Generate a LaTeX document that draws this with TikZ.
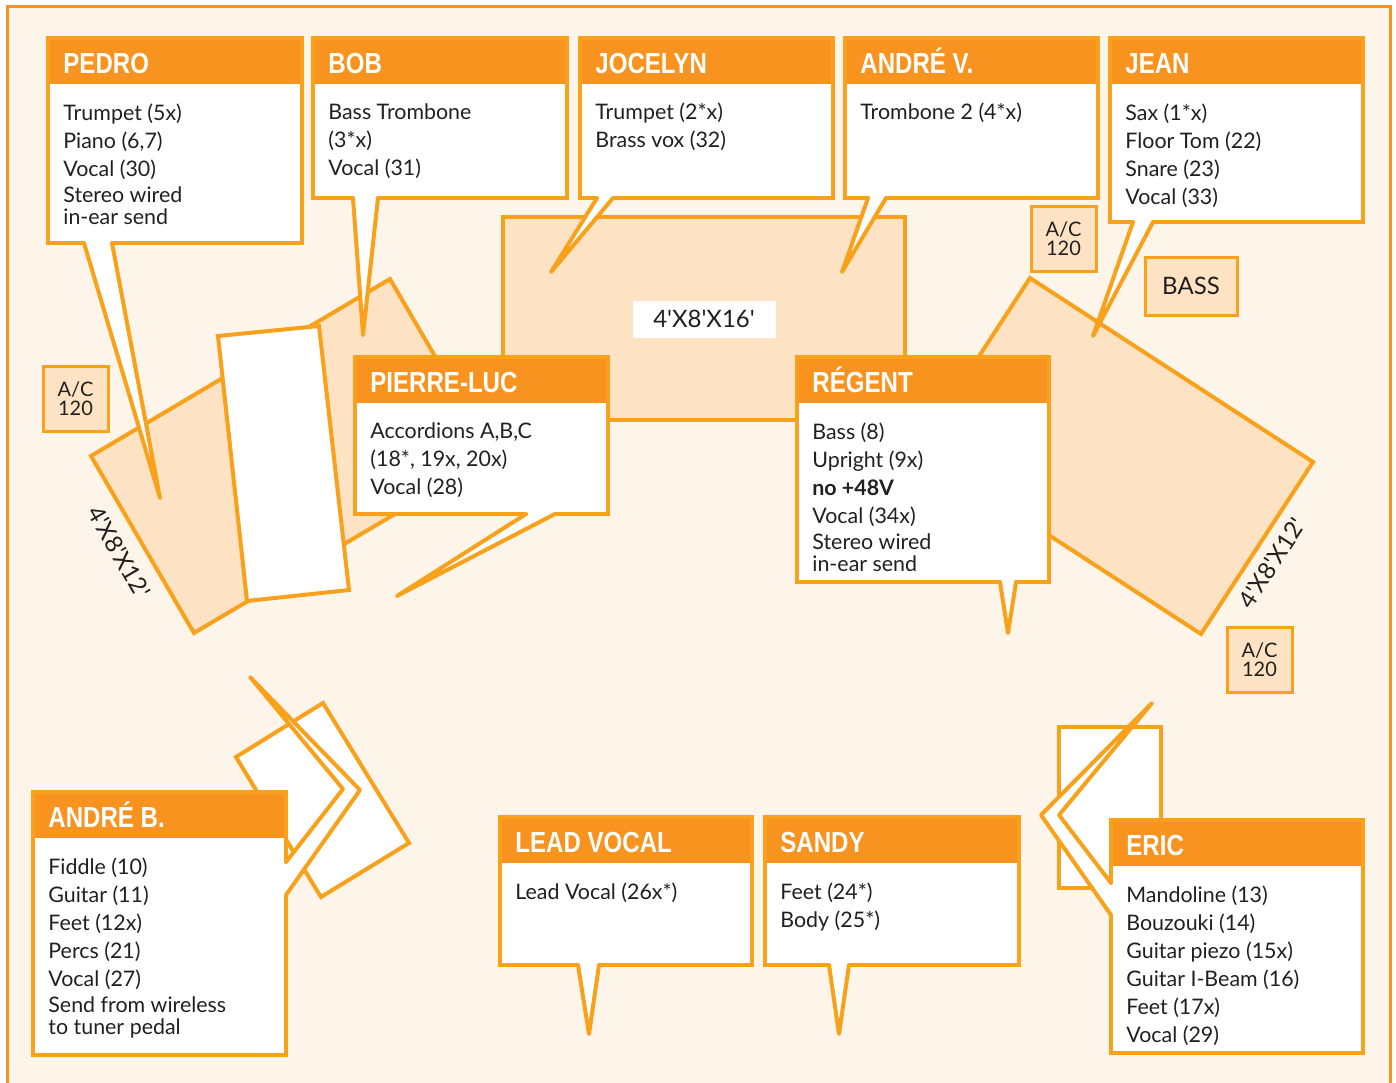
\documentclass[tikz,border=0pt]{standalone}
\usepackage{fontspec}
\newfontfamily\bodyfont{Lato}
\newfontfamily\headfont{Liberation Sans}[FakeStretch=0.83]
\definecolor{cream}{HTML}{FEF5EA}
\definecolor{head}{HTML}{F7931E}
\definecolor{edge}{HTML}{F9A11B}
\definecolor{stagefill}{HTML}{FDE3C3}
\definecolor{ink}{HTML}{231F20}
\newcommand{\ft}{\textquotesingle}
\tikzset{
	cardline/.style={draw=edge,line width=2pt},
	title/.style={anchor=base west,inner sep=0pt,text=white,font=\headfont\bfseries\fontsize{14.5}{16}\selectfont},
	lines/.style={anchor=north west,inner sep=0pt,align=left,text=ink,font=\bodyfont\fontsize{10.7}{14}\selectfont},
	stage/.style={fill=stagefill,draw=edge,line width=2pt},
	plate/.style={fill=white,draw=edge,line width=2pt},
	tailline/.style={draw=edge,line width=2pt,line join=round,line cap=round},
	acbox/.style={fill=stagefill,draw=edge,line width=1.5pt,align=center,inner sep=0pt,text=ink,font=\bodyfont\fontsize{10}{9.5}\selectfont,minimum width=32.5pt,minimum height=32.5pt},
	dims/.style={text=ink,inner sep=0pt,font=\bodyfont\fontsize{12}{14}\selectfont}
}
% box with orange header: name, x0, y0, x1, y1, title, lines
\newcommand{\cuebox}[7]{%
	\fill[white] (#2,#3) rectangle (#4,#5);
	\fill[head] (#2,#3) rectangle (#4,{#3+46});
	\draw[cardline] (#2,#3) rectangle (#4,#5);
	\node[title] (#1-title) at ({#2+15},{#3+35}) {#6};
	\node[lines] (#1) at ({#2+15},{#3+65}) {#7};
}
% pointer under a box: left x, right x, y, tip
\newcommand{\spike}[5]{%
	\fill[white] (#1,{#3-3}) -- (#1,#3) -- (#4,#5) -- (#2,#3) -- (#2,{#3-3}) -- cycle;
	\draw[tailline] (#1,#3) -- (#4,#5) -- (#2,#3);
}

\begin{document}
\begin{tikzpicture}[x=0.5pt,y=-0.5pt]
	\useasboundingbox (0,0) rectangle (1396,1082);
	\clip (0,0) rectangle (1396,1082);
	\fill[white] (0,0) rectangle (1396,1082);
	\filldraw[fill=cream,draw=head,line width=1.5pt] (7,6) rectangle (1390,1100);

	% risers
	\draw[stage] (503,217) rectangle (905,420);
	\draw[stage] (91,456) -- (390,279) -- (493,456) -- (194,633) -- cycle;
	\draw[stage] (1030,278) -- (1313,462) -- (1201,634) -- (918,450) -- cycle;
	\draw[plate] (218,336) -- (319,326) -- (349,590) -- (247,601) -- cycle;
	\node[dims,fill=white,minimum width=71.5pt,minimum height=18.5pt] (riser-c) at (704,319) {4\ft X8\ft X16\ft};
	\node[dims,rotate=-60] (riser-l) at (119,552) {4\ft X8\ft X12\ft};
	\node[dims,rotate=57] (riser-r) at (1272,563) {4\ft X8\ft X12\ft};

	% power and amp
	\node[acbox] (ac-l) at (75.5,398.5) {A/C\\120};
	\node[acbox] (ac-t) at (1063.5,238.5) {A/C\\120};
	\node[acbox] (ac-r) at (1259.5,660) {A/C\\120};
	\node[acbox,minimum width=46pt,minimum height=29pt,font=\bodyfont\fontsize{12}{14}\selectfont] (bass) at (1191,286) {BASS};

	% wedges
	\draw[plate] (236,757) -- (323,703) -- (409,843) -- (321,897) -- cycle;
	\draw[plate] (1059,727) rectangle (1161,888);

	% back line
	\cuebox{pedro}{48}{38}{302}{243}{PEDRO}{Trumpet (5x)\\Piano (6,7)\\Vocal (30)\\[-1pt]Stereo wired\\[-3pt]in-ear send}
	\spike{84}{112}{243}{160}{498}
	\cuebox{bob}{313}{38}{567}{198}{BOB}{Bass Trombone\\(3*x)\\Vocal (31)}
	\spike{353}{378}{198}{363}{335}
	\cuebox{jocelyn}{580}{38}{833}{198}{JOCELYN}{Trumpet (2*x)\\Brass vox (32)}
	\spike{597}{613}{198}{551}{272}
	\cuebox{andrev}{845}{38}{1098}{198}{ANDRÉ V.}{Trombone 2 (4*x)}
	\spike{868}{886}{198}{842}{272}
	\cuebox{jean}{1110}{38}{1363}{222}{JEAN}{Sax (1*x)\\Floor Tom (22)\\Snare (23)\\Vocal (33)}
	\spike{1133}{1153}{222}{1093}{336}

	% middle
	\cuebox{pierreluc}{355}{357}{608}{514}{PIERRE-LUC}{Accordions A,B,C\\(18*, 19x, 20x)\\Vocal (28)}
	\spike{526}{555}{514}{397}{596}
	\cuebox{regent}{797}{357}{1049}{582}{RÉGENT}{Bass (8)\\Upright (9x)\\\textbf{no +48V}\\Vocal (34x)\\[-1pt]Stereo wired\\[-3pt]in-ear send}
	\spike{1000}{1016}{582}{1008}{633}

	% front line
	\cuebox{andreb}{33}{792}{286}{1055}{ANDRÉ B.}{Fiddle (10)\\Guitar (11)\\Feet (12x)\\Percs (21)\\Vocal (27)\\[-1pt]Send from wireless\\[-3pt]to tuner pedal}
	\fill[white] (282,862) -- (286,862) -- (343,789) -- (250,677) -- (360,790) -- (286,895) -- (282,895) -- cycle;
	\draw[tailline] (286,862) -- (343,789) -- (250,677) -- (360,790) -- (286,895);
	\cuebox{lead}{500}{817}{752}{965}{LEAD VOCAL}{Lead Vocal (26x*)}
	\spike{578}{599}{965}{589}{1034}
	\cuebox{sandy}{765}{817}{1019}{965}{SANDY}{Feet (24*)\\Body (25*)}
	\spike{829}{849}{965}{839}{1034}
	\cuebox{eric}{1111}{820}{1363}{1053}{ERIC}{Mandoline (13)\\Bouzouki (14)\\Guitar piezo (15x)\\Guitar I-Beam (16)\\Feet (17x)\\Vocal (29)}
	\fill[white] (1115,883) -- (1111,883) -- (1059,815) -- (1152,703) -- (1041,815) -- (1111,915) -- (1115,915) -- cycle;
	\draw[tailline] (1111,883) -- (1059,815) -- (1152,703) -- (1041,815) -- (1111,915);
\end{tikzpicture}
\end{document}
